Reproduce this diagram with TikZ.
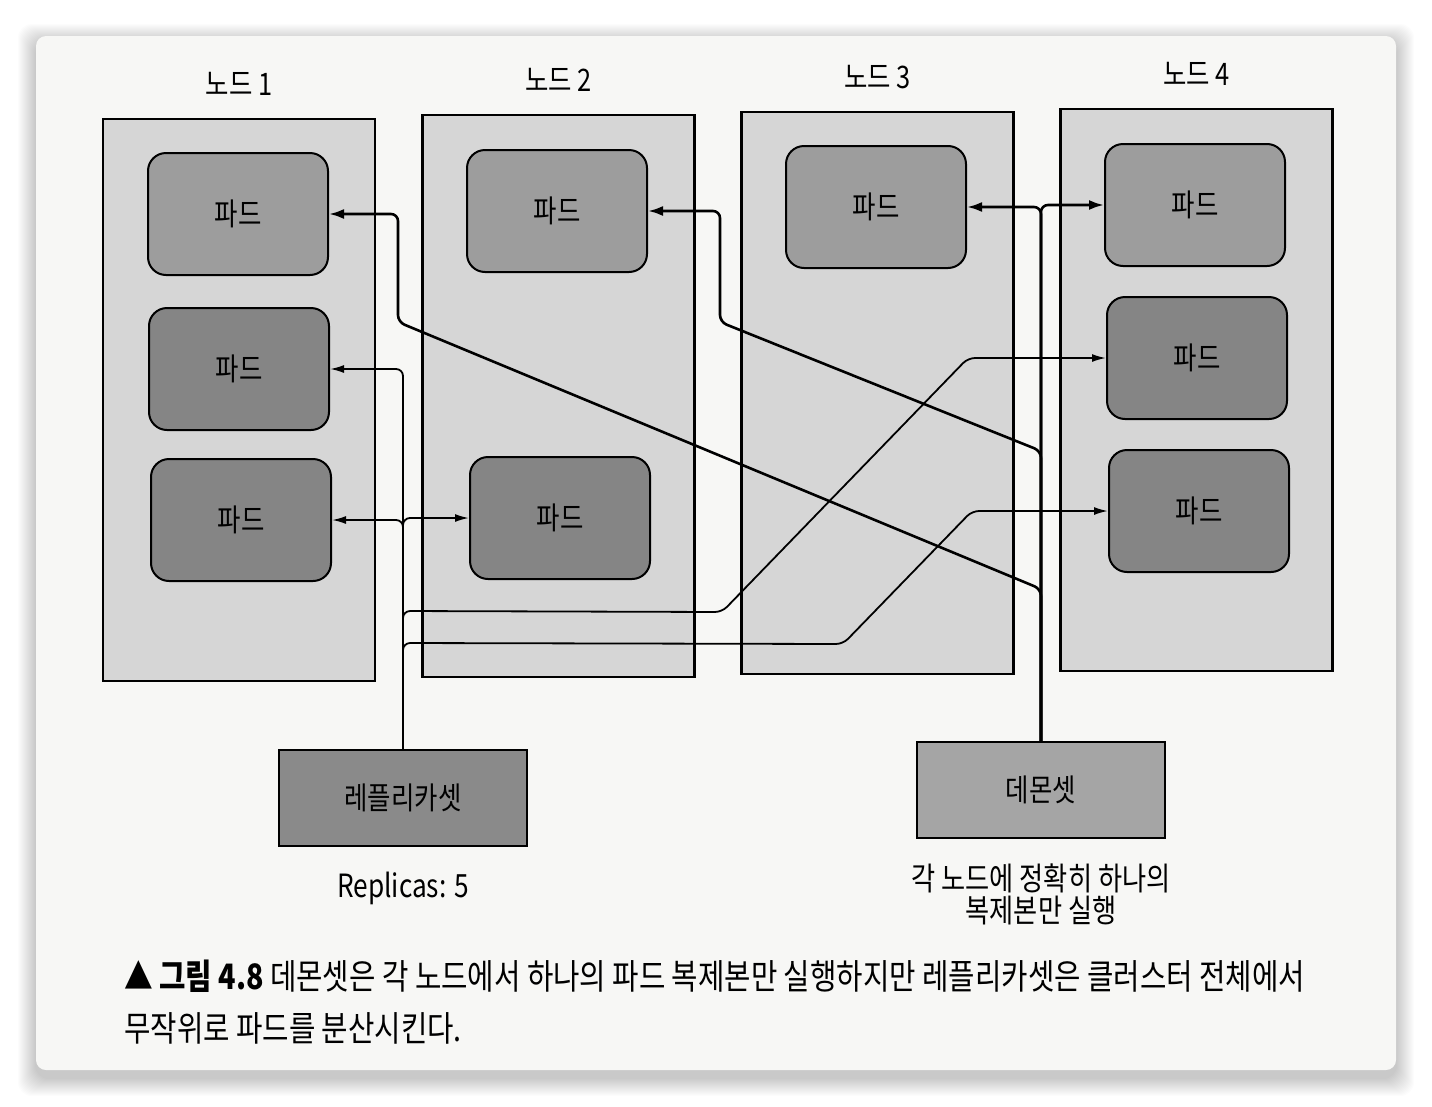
\documentclass[tikz,border=0pt]{standalone}
\usepackage{fontspec}
\setmainfont{Noto Sans CJK KR}[FakeStretch=0.82]
\usetikzlibrary{positioning, arrows.meta}
\definecolor{mypage}{RGB}{247,247,245}
\definecolor{mynode}{RGB}{214,214,214}
\definecolor{mylight}{RGB}{157,157,157}
\definecolor{mydark}{RGB}{133,133,133}
\definecolor{myrs}{RGB}{138,138,138}
\definecolor{myds}{RGB}{165,165,165}
\tikzset{
    nodebox/.style={draw, line width=2.2pt, fill=mynode, minimum width=272pt,
        minimum height=562pt, inner sep=0pt},
    nodetitle/.style={inner sep=0pt, font=\fontsize{31}{36}\selectfont},
    pod/.style={draw, line width=2pt, rounded corners=18pt, minimum width=180pt,
        minimum height=122pt, font=\fontsize{31}{36}\selectfont},
    daemonpod/.style={pod, fill=mylight},
    replicapod/.style={pod, fill=mydark},
    setbox/.style={draw, line width=2pt, minimum width=248pt, minimum height=96pt,
        font=\fontsize{31}{36}\selectfont},
    note/.style={inner sep=0pt, align=center, font=\fontsize{32}{32}\selectfont},
    rsline/.style={line width=1.8pt, rounded corners=7pt, -{Latex[length=14pt, width=8pt]}},
    dsline/.style={line width=2.6pt, rounded corners=7pt, -{Latex[length=15pt, width=10pt]}},
}

\begin{document}
\begin{tikzpicture}[x=1pt, y=-1pt]
    \useasboundingbox (0,0) rectangle (1432,1106);
    % page and its shadow
    \fill[white] (0,0) rectangle (1432,1106);
    \foreach \s in {1,...,18}
        \fill[black, opacity=0.012, rounded corners=14pt]
            (36-\s, 42-\s) rectangle (1396+\s, 1078+\s);
    \fill[mypage, rounded corners=10pt] (36,36) rectangle (1396,1070);

    % Nodes
    \node[nodebox] (Node1) at (239,400) {};
    \node[nodebox] (Node2) at (558.5,396) {};
    \node[nodebox] (Node3) at (877.5,393) {};
    \node[nodebox] (Node4) at (1196.5,390) {};
    \node[nodetitle, above=22pt of Node1] {노드 1};
    \node[nodetitle, above=22pt of Node2] {노드 2};
    \node[nodetitle, above=22pt of Node3] {노드 3};
    \node[nodetitle, above=22pt of Node4] {노드 4};

    % Pods
    \node[daemonpod] (Pod1a) at (238,214) {파드};
    \node[replicapod] (Pod1b) at (239,369) {파드};
    \node[replicapod] (Pod1c) at (241,520) {파드};
    \node[daemonpod] (Pod2a) at (557,211) {파드};
    \node[replicapod] (Pod2b) at (560,518) {파드};
    \node[daemonpod] (Pod3a) at (876,207) {파드};
    \node[daemonpod] (Pod4a) at (1195,205) {파드};
    \node[replicapod] (Pod4b) at (1197,358) {파드};
    \node[replicapod] (Pod4c) at (1199,511) {파드};

    % Controllers
    \node[setbox, fill=myrs] (RepSet) at (403,798) {레플리카셋};
    \node[setbox, fill=myds] (DaemonSet) at (1041,790) {데몬셋};
    \node[note, below=25pt of RepSet] {Replicas: 5};
    \node[note, below=25pt of DaemonSet] {각 노드에 정확히 하나의\\복제본만 실행};

    % ReplicaSet -> pods
    \draw[rsline] (RepSet.north) |- (Pod1b.east);
    \draw[rsline] (RepSet.north) |- (Pod1c.east);
    \draw[rsline] (RepSet.north) |- (Pod2b.west);
    \draw[rsline] (RepSet.north) -- ++(0,-138) -- (722,612) -- (968,358) -- (Pod4b.west);
    \draw[rsline] (RepSet.north) -- ++(0,-106) -- (843,644) -- (972,511) -- (Pod4c.west);

    % DaemonSet -> pods
    \draw[dsline] (DaemonSet.north) |- (Pod3a.east);
    \draw[dsline] (DaemonSet.north) |- (Pod4a.west);
    \draw[dsline] (DaemonSet.north) -- ++(0,-152) -- (398,322) |- (Pod1a.east);
    \draw[dsline] (DaemonSet.north) -- ++(0,-290) -- (720,322) |- (Pod2a.east);

    % Caption
    \node[anchor=north west, inner sep=0pt, align=left,
        font=\fontsize{35}{52}\selectfont] (Caption) at (124,960)
        {▲ \textbf{그림 4.8} 데몬셋은 각 노드에서 하나의 파드 복제본만 실행하지만 레플리카셋은 클러스터 전체에서\\
         무작위로 파드를 분산시킨다.};
\end{tikzpicture}
\end{document}
